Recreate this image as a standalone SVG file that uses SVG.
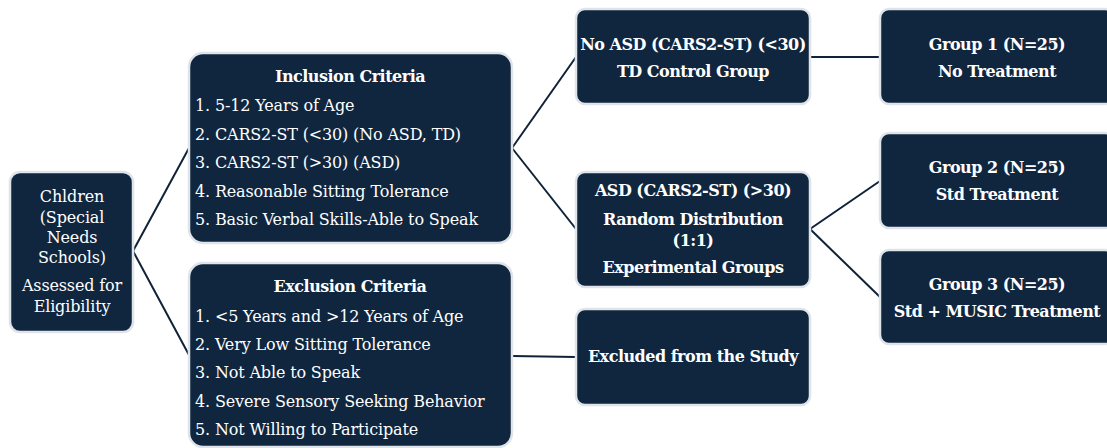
<svg xmlns="http://www.w3.org/2000/svg" width="1107" height="448" viewBox="0 0 1107 448">
  <style>
    .box { fill: #10263f; stroke: #dfe4ea; stroke-width: 2.5; }
    .t { fill: #ffffff; font-family: "DejaVu Serif", "Liberation Serif", serif; font-size: 16px; letter-spacing: -0.15px; }
    .b { font-weight: bold; letter-spacing: -0.5px; }
    .c { text-anchor: middle; }
    .link { stroke: #0f2238; stroke-width: 2; fill: none; }
  </style>
  <rect width="1107" height="448" fill="#ffffff"/>

  <!-- connectors -->
  <g id="connectors">
    <line class="link" x1="133" y1="251" x2="189" y2="148"/>
    <line class="link" x1="133" y1="251" x2="189" y2="355"/>
    <line class="link" x1="512" y1="148" x2="576" y2="57"/>
    <line class="link" x1="512" y1="148" x2="576" y2="229"/>
    <line class="link" x1="810" y1="57" x2="880" y2="57"/>
    <line class="link" x1="810" y1="229" x2="880" y2="181"/>
    <line class="link" x1="810" y1="229" x2="880" y2="297"/>
    <line class="link" x1="512" y1="356" x2="576" y2="357"/>
  </g>

  <!-- start node -->
  <g id="children">
    <rect class="box" x="10" y="172" width="123" height="160" rx="10"/>
    <text class="t c" x="72" y="202">Chldren</text>
    <text class="t c" x="72" y="222.5">(Special</text>
    <text class="t c" x="72" y="242.5">Needs</text>
    <text class="t c" x="72" y="263">Schools)</text>
    <text class="t c" x="72" y="291">Assessed for</text>
    <text class="t c" x="72" y="312">Eligibility</text>
  </g>

  <g id="inclusion">
    <rect class="box" x="189" y="53" width="323" height="190" rx="14"/>
    <text class="t b c" x="350" y="82">Inclusion Criteria</text>
    <text class="t" x="195" y="111">1. 5-12 Years of Age</text>
    <text class="t" x="195" y="139.5">2. CARS2-ST (&lt;30) (No ASD, TD)</text>
    <text class="t" x="195" y="168">3. CARS2-ST (&gt;30) (ASD)</text>
    <text class="t" x="195" y="196.5">4. Reasonable Sitting Tolerance</text>
    <text class="t" x="195" y="225">5. Basic Verbal Skills-Able to Speak</text>
  </g>

  <g id="exclusion">
    <rect class="box" x="189" y="263" width="323" height="184" rx="14"/>
    <text class="t b c" x="350" y="292">Exclusion Criteria</text>
    <text class="t" x="195" y="321.5">1. &lt;5 Years and &gt;12 Years of Age</text>
    <text class="t" x="195" y="350">2. Very Low Sitting Tolerance</text>
    <text class="t" x="195" y="378">3. Not Able to Speak</text>
    <text class="t" x="195" y="406.5">4. Severe Sensory Seeking Behavior</text>
    <text class="t" x="195" y="435">5. Not Willing to Participate</text>
  </g>

  <g id="no-asd">
    <rect class="box" x="576" y="9" width="234" height="95" rx="9"/>
    <text class="t b c" x="693" y="50">No ASD (CARS2-ST) (&lt;30)</text>
    <text class="t b c" x="693" y="77">TD Control Group</text>
  </g>

  <g id="asd">
    <rect class="box" x="576" y="172" width="234" height="115" rx="9"/>
    <text class="t b c" x="693" y="196">ASD (CARS2-ST) (&gt;30)</text>
    <text class="t b c" x="693" y="225">Random Distribution</text>
    <text class="t b c" x="693" y="246">(1:1)</text>
    <text class="t b c" x="693" y="273">Experimental Groups</text>
  </g>

  <g id="excluded">
    <rect class="box" x="576" y="309" width="234" height="96" rx="9"/>
    <text class="t b c" x="693" y="362">Excluded from the Study</text>
  </g>

  <g id="group1">
    <rect class="box" x="880" y="9" width="234" height="95" rx="9"/>
    <text class="t b c" x="997" y="50">Group 1 (N=25)</text>
    <text class="t b c" x="997" y="77">No Treatment</text>
  </g>

  <g id="group2">
    <rect class="box" x="880" y="133" width="234" height="95" rx="9"/>
    <text class="t b c" x="997" y="173">Group 2 (N=25)</text>
    <text class="t b c" x="997" y="200">Std Treatment</text>
  </g>

  <g id="group3">
    <rect class="box" x="880" y="250" width="234" height="94" rx="9"/>
    <text class="t b c" x="997" y="290">Group 3 (N=25)</text>
    <text class="t b c" x="997" y="317">Std + MUSIC Treatment</text>
  </g>
</svg>
